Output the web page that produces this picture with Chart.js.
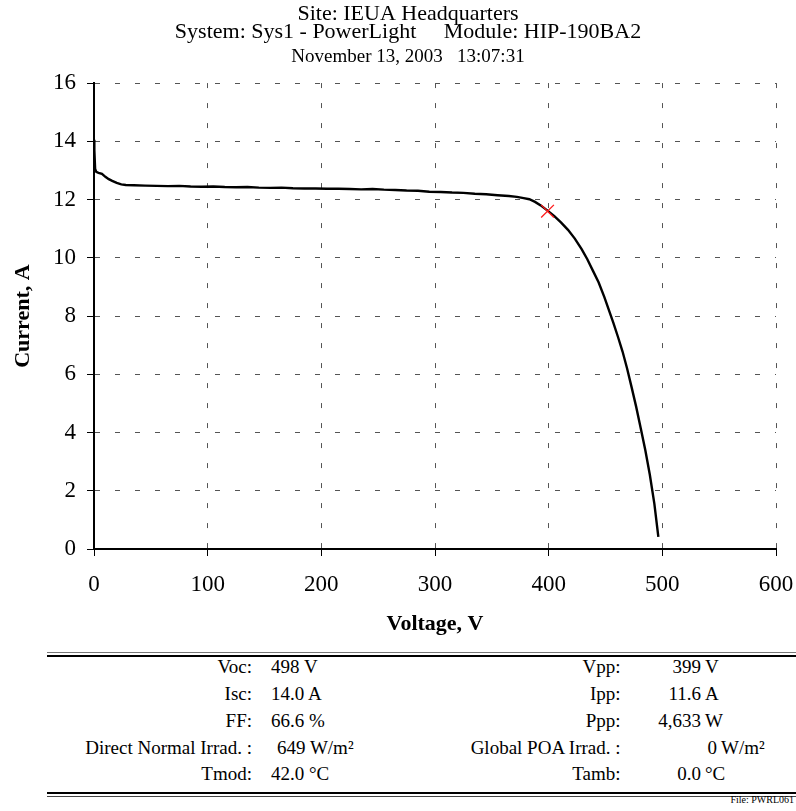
<!DOCTYPE html>
<html>
<head>
<meta charset="utf-8">
<script src="https://cdn.jsdelivr.net/npm/chart.js@4.4.0/dist/chart.umd.min.js"></script>
<style>
  html, body { margin: 0; padding: 0; background: #fff; }
  body { width: 796px; height: 811px; position: relative; overflow: hidden; font-family: 'Liberation Serif', serif; color: #000; }
  #chartBox { position: absolute; left: 0; top: 0; width: 796px; height: 640px; }
  .rule { position: absolute; left: 47px; width: 749px; }
  .cell { position: absolute; font-size: 19px; line-height: 20px; white-space: pre; }
  #fileTag { position: absolute; right: 2px; top: 795px; font-size: 10px; line-height: 10px; white-space: pre; }
</style>
</head>
<body>
<div id="chartBox"><canvas id="ivChart"></canvas></div>
<div id="stats"></div>
<script>
// タイトル・軸
var titleLines = ['Site: IEUA Headquarters', 'System: Sys1 - PowerLight     Module: HIP-190BA2'];
var dateLine = 'November 13, 2003   13:07:31';
var xAxisTitle = 'Voltage, V';
var yAxisTitle = 'Current, A';
var xTickValues = [0, 100, 200, 300, 400, 500, 600];
var yTickValues = [0, 2, 4, 6, 8, 10, 12, 14, 16];

// I-V カーブ
var voltage = [0, 0.3, 1, 2, 4, 7, 10, 13, 16, 20, 24, 28, 35, 45, 55, 65, 75, 85, 95, 105,
  115, 125, 135, 145, 155, 165, 175, 185, 195, 205, 215, 225, 235, 245, 255, 265, 275, 285, 295, 305,
  315, 325, 335, 345, 355, 365, 372, 378, 383, 388, 393, 399, 405, 411, 417, 423, 429, 434, 439, 444,
  449, 453, 457, 461, 465, 469, 473, 477, 481, 485, 489, 493, 496.5];
var current = [14.05, 13.7, 13.05, 12.95, 12.92, 12.88, 12.78, 12.7, 12.64, 12.57, 12.52, 12.5, 12.49, 12.48, 12.47, 12.46, 12.47, 12.45, 12.44, 12.45,
  12.43, 12.42, 12.43, 12.41, 12.4, 12.41, 12.39, 12.38, 12.38, 12.37, 12.37, 12.36, 12.35, 12.36, 12.34, 12.33, 12.31, 12.3, 12.27, 12.26,
  12.24, 12.23, 12.2, 12.18, 12.15, 12.12, 12.09, 12.05, 12.01, 11.92, 11.8, 11.62, 11.43, 11.21, 10.96, 10.66, 10.3, 9.95, 9.55, 9.15,
  8.65, 8.2, 7.76, 7.28, 6.78, 6.2, 5.55, 4.88, 4.15, 3.4, 2.55, 1.55, 0.42];

// 最大電力点
var mppVoltage = [399];
var mppCurrent = [11.6];

// 下部の測定値テーブル
var leftLabels = ['Voc:', 'Isc:', 'FF:', 'Direct Normal Irrad. :', 'Tmod:'];
var leftNums = ['498', '14.0', '66.6', '649', '42.0'];
var leftUnits = ['V', 'A', '%', 'W/m²', '°C'];
var rightLabels = ['Vpp:', 'Ipp:', 'Ppp:', 'Global POA Irrad. :', 'Tamb:'];
var rightNums = ['399', '11.6', '4,633', '0', '0.0'];
var rightUnits = ['V', 'A', 'W', 'W/m²', '°C'];
var fileName = 'File: PWRL061';

var FONT = "'Liberation Serif', serif";

var curvePoints = voltage.map(function(v, i) { return { x: v, y: current[i] }; });
var mppPoints = mppVoltage.map(function(v, i) { return { x: v, y: mppCurrent[i] }; });

new Chart(document.getElementById('ivChart').getContext('2d'), {
  type: 'scatter',
  data: {
    datasets: [
      {
        label: 'Max power point',
        data: mppPoints,
        order: 0,
        showLine: false,
        pointStyle: 'crossRot',
        pointRadius: 9,
        pointBorderColor: '#ff1a1a',
        pointBorderWidth: 1.3,
        borderColor: '#ff1a1a'
      },
      {
        label: 'I-V curve',
        data: curvePoints,
        order: 1,
        showLine: true,
        borderColor: '#000',
        borderWidth: 2.4,
        pointRadius: 0,
        tension: 0
      }
    ]
  },
  options: {
    responsive: true,
    maintainAspectRatio: false,
    animation: false,
    events: [],
    // 左余白でタイトル中心を右へ寄せる
    layout: { padding: { left: 40, right: 20, top: 0, bottom: 0 } },
    plugins: {
      legend: { display: false },
      tooltip: { enabled: false },
      title: {
        display: true,
        text: titleLines,
        color: '#000',
        font: { family: FONT, size: 22, weight: 'normal', lineHeight: 0.805 },
        padding: { top: 5.2, bottom: 0 }
      },
      subtitle: {
        display: true,
        text: dateLine,
        color: '#000',
        font: { family: FONT, size: 19, weight: 'normal', lineHeight: 1.1 },
        padding: { top: 5.7, bottom: 15.85 }
      }
    },
    scales: {
      x: {
        type: 'linear',
        min: 0,
        max: 600,
        afterBuildTicks: function(scale) {
          scale.ticks = xTickValues.map(function(v) { return { value: v }; });
        },
        afterFit: function(scale) { scale.height = 91; },
        // padding を小さくして右端の余白を抑え、lineHeight で縦位置を合わせる
        ticks: { color: '#000', font: { family: FONT, size: 23, lineHeight: 2.32 }, padding: 2, maxRotation: 0 },
        grid: { color: '#555', lineWidth: 1, tickLength: 7, tickColor: '#000', tickWidth: 1, tickBorderDash: [] },
        border: { display: true, color: '#000', width: 2, dash: [5, 15] },
        title: {
          display: true,
          text: xAxisTitle,
          color: '#000',
          font: { family: FONT, size: 22, weight: 'bold' },
          padding: { top: 0, bottom: 2 }
        }
      },
      y: {
        type: 'linear',
        min: 0,
        max: 16,
        afterBuildTicks: function(scale) {
          scale.ticks = yTickValues.map(function(v) { return { value: v }; });
        },
        afterFit: function(scale) { scale.width = 54; },
        ticks: { color: '#000', font: { family: FONT, size: 23 }, padding: 11 },
        grid: { color: '#555', lineWidth: 1, tickLength: 7, tickColor: '#000', tickWidth: 1, tickBorderDash: [] },
        border: { display: true, color: '#000', width: 2, dash: [5, 15] },
        title: {
          display: true,
          text: yAxisTitle,
          color: '#000',
          font: { family: FONT, size: 22, weight: 'bold' },
          padding: { top: -30.2, bottom: 0 }
        }
      }
    }
  }
});

// テーブル描画
var stats = document.getElementById('stats');
function addEl(cls, text, css) {
  var el = document.createElement('div');
  el.className = cls;
  if (text !== null) el.textContent = text;
  Object.keys(css).forEach(function(k) { el.style[k] = css[k]; });
  stats.appendChild(el);
  return el;
}

addEl('rule', null, { top: '652px', height: '1px', background: '#777' });
addEl('rule', null, { top: '655px', height: '2px', background: '#000' });
addEl('rule', null, { top: '792px', height: '2px', background: '#000' });
addEl('rule', null, { top: '796px', height: '1px', background: '#444' });

var rowTop = 657.1;
var rowStep = 26.8;
var irrRow = 3;
leftLabels.forEach(function(lab, i) {
  var top = (rowTop + i * rowStep) + 'px';
  var shift = (i === irrRow) ? 6 : 0;
  var rshift = (i === irrRow) ? 16 : 0;
  addEl('cell', lab, { top: top, right: (796 - 252) + 'px' });
  addEl('cell', leftNums[i] + ' ' + leftUnits[i], { top: top, left: (271 + shift) + 'px' });
  addEl('cell', rightLabels[i], { top: top, right: (796 - 620.5) + 'px' });
  addEl('cell', rightNums[i], { top: top, right: (796 - 701 - rshift) + 'px' });
  addEl('cell', rightUnits[i], { top: top, left: (705 + rshift) + 'px' });
});

var tag = document.createElement('div');
tag.id = 'fileTag';
tag.textContent = fileName;
document.body.appendChild(tag);
</script>
</body>
</html>
